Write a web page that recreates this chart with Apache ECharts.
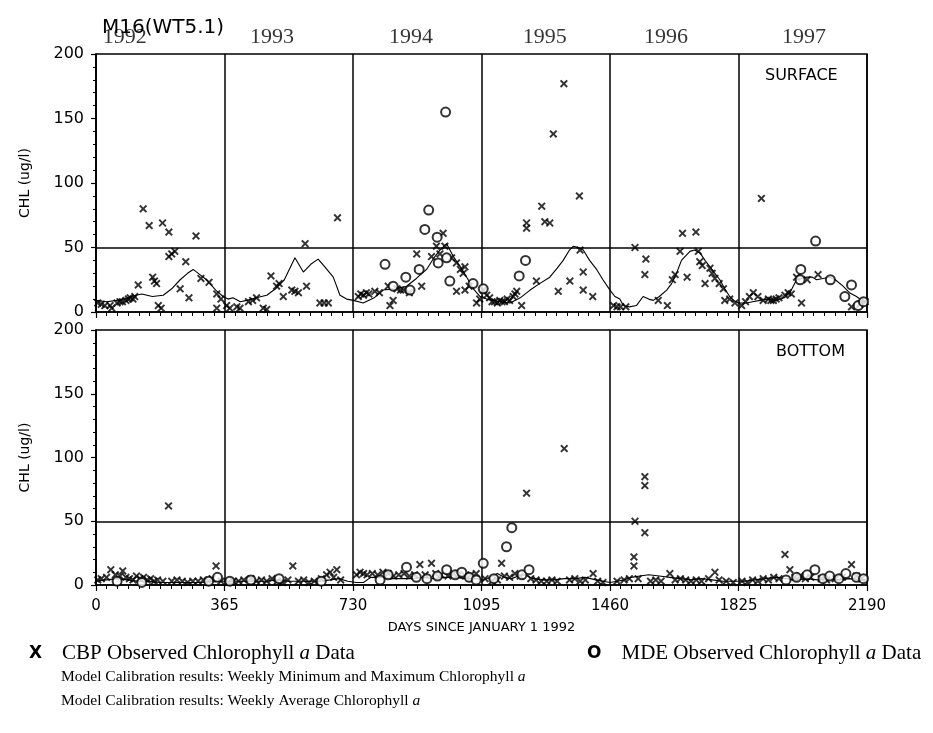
<!DOCTYPE html>
<html>
<head>
<meta charset="utf-8">
<script src="https://cdn.jsdelivr.net/npm/echarts@6/dist/echarts.min.js"></script>
<style>html,body{margin:0;padding:0;background:#fff}#c{width:933px;height:733px}</style>
</head>
<body>
<div id="c"></div>
<script>
// ---- data (day since Jan 1 1992, chlorophyll ug/l) ----
const xTicks = [0, 365, 730, 1095, 1460, 1825, 2190];
const yearLabels = ['1992', '1993', '1994', '1995', '1996', '1997'];
const yearLabelDays = [82, 500, 895, 1275, 1619, 2011];

const surfaceCBP = [
  [5,7],[15,6],[25,5],[40,5],[45,3],[60,7],[68,8],[75,8],[85,9],[92,10],[97,11],[105,10],[110,12],[120,21],[134,80],[151,67],[161,27],[166,24],[172,22],[177,5],[185,3],[189,69],[207,62],[207,43],[215,45],[224,47],[239,18],[255,39],[264,11],[284,59],[298,26],[321,23],[343,14],[343,3],[355,10],[371,5],
  [380,3],[400,4],[409,3],[433,8],[445,9],[456,11],[475,3],[485,2],[497,28],[513,20],[520,22],[532,12],[556,17],[565,16],[575,15],[594,53],[598,20],[636,7],[648,7],[660,7],[686,73],
  [745,12],[752,14],[760,13],[768,15],[775,14],[792,16],[805,15],[830,20],[835,5],[844,9],[855,18],[865,17],[873,17],[890,15],[911,45],[925,20],[953,43],[967,51],[977,45],[986,61],[991,51],[1010,42],[1024,38],[1024,16],[1035,33],[1043,30],[1048,35],[1048,17],[1060,20],[1081,7],[1090,10],
  [1100,17],[1110,13],[1118,11],[1125,8],[1132,8],[1140,7],[1147,9],[1153,8],[1160,8],[1168,10],[1175,9],[1185,12],[1190,14],[1195,16],[1209,5],[1223,69],[1223,65],[1251,24],[1266,82],[1275,70],[1289,69],[1299,138],[1313,16],[1329,177],[1346,24],[1373,90],[1375,48],[1384,31],[1384,17],[1411,12],
  [1470,5],[1480,4],[1490,4],[1505,4],[1531,50],[1559,29],[1562,41],[1597,9],[1623,5],[1637,25],[1645,29],[1659,47],[1666,61],[1679,27],[1704,62],[1711,47],[1715,39],[1722,36],[1730,22],[1744,34],[1750,30],[1758,26],[1770,22],[1782,18],[1786,9],[1800,10],[1815,7],
  [1834,5],[1845,8],[1856,12],[1867,15],[1880,12],[1890,88],[1895,9],[1910,10],[1917,9],[1924,9],[1932,10],[1940,11],[1957,13],[1966,15],[1975,14],[1990,27],[2004,7],[2020,25],[2051,29],[2146,4],[2170,6],[2185,8]
];
const surfaceMDE = [
  [821,37],[844,20],[880,27],[892,17],[918,33],[934,64],[945,79],[969,58],[972,38],[993,155],[996,42],[1005,24],[1071,22],[1100,18],
  [1202,28],[1220,40],
  [2000,25],[2002,33],[2044,55],[2086,25],[2127,12],[2146,21],[2165,5],[2180,8]
];
const surfaceAvg = [
  [0,9],[30,8],[60,9],[90,11],[115,13],[130,14],[160,12],[191,13],[215,18],[239,25],[260,30],[276,33],[295,29],[314,25],[340,17],[361,12],[375,10],[389,11],[410,8],[428,9],[455,11],[485,13],[510,18],[535,25],[565,42],[589,31],[610,37],[631,41],[650,35],[674,27],[693,13],[712,10],[731,9],
  [759,7],[790,11],[816,17],[850,18],[882,20],[910,26],[939,33],[960,42],[977,48],[996,53],[1015,43],[1035,35],[1053,27],[1072,18],[1091,12],
  [1110,10],[1128,9],[1150,8],[1176,7],[1205,11],[1233,17],[1260,22],[1289,27],[1310,34],[1327,40],[1345,48],[1356,51],[1370,50],[1384,48],[1402,40],[1422,33],[1440,25],[1460,17],
  [1474,12],[1488,10],[1498,5],[1515,4],[1535,5],[1554,12],[1570,10],[1583,9],[1600,12],[1621,17],[1635,22],[1649,30],[1663,40],[1687,47],[1700,48],[1715,46],[1730,40],[1744,35],[1758,30],[1772,25],[1786,18],[1800,12],[1812,9],[1824,7],
  [1848,7],[1865,8],[1886,9],[1910,10],[1933,9],[1955,11],[1971,15],[1990,25],[2018,27],[2035,27],[2047,25],[2065,26],[2084,27],[2100,25],[2122,20],[2140,15],[2160,12],[2175,9],[2190,7]
];

const bottomCBP = [
  [5,4],[15,5],[30,6],[42,12],[55,8],[68,7],[76,11],[85,6],[95,5],[105,4],[115,7],[125,5],[135,6],[145,4],[155,5],[165,3],[175,4],[190,3],[206,62],[215,3],[230,4],[245,3],[260,2],[275,3],[290,3],[305,4],[320,3],[330,5],[341,15],[355,3],
  [375,2],[390,3],[405,3],[420,4],[440,5],[455,3],[470,4],[485,3],[500,5],[515,3],[530,2],[545,4],[559,15],[575,3],[590,4],[605,2],[620,3],[640,5],[655,8],[665,10],[675,6],[684,12],[695,4],
  [740,8],[750,10],[760,9],[770,8],[785,9],[800,8],[815,10],[830,9],[845,7],[860,8],[875,9],[890,7],[905,8],[920,16],[935,8],[953,17],[965,9],[980,8],[1000,7],[1015,9],[1030,8],[1050,7],[1065,8],[1080,9],
  [1105,5],[1125,3],[1140,4],[1152,17],[1160,7],[1175,6],[1190,9],[1205,7],[1223,72],[1235,5],[1250,4],[1265,3],[1280,3],[1295,4],[1310,3],[1330,107],[1345,4],[1360,5],[1375,3],[1390,4],[1412,9],[1425,3],[1440,2],
  [1480,3],[1500,4],[1515,5],[1528,15],[1528,22],[1531,50],[1540,5],[1559,85],[1559,78],[1559,41],[1575,3],[1590,4],[1605,3],[1630,9],[1645,4],[1660,5],[1675,4],[1690,3],[1705,4],[1720,3],[1740,5],[1758,10],[1770,4],[1790,3],[1810,2],
  [1835,3],[1850,2],[1865,4],[1880,3],[1895,5],[1910,4],[1925,6],[1940,5],[1957,24],[1971,12],[1985,6],[2000,7],[2015,5],[2030,6],[2060,5],[2075,4],[2100,5],[2120,6],[2146,16],[2160,7],[2175,5]
];
const bottomMDE = [
  [60,3],[130,2],[320,3],[345,6],[380,3],[440,4],[520,5],[640,3],
  [807,4],[830,8],[882,14],[910,6],[940,5],[970,7],[996,12],[1020,8],[1039,10],[1060,6],[1080,4],[1100,17],
  [1130,5],[1166,30],[1181,45],[1210,8],[1230,12],
  [1960,4],[1990,6],[2020,8],[2042,12],[2065,5],[2084,7],[2110,5],[2130,9],[2160,6],[2180,5]
];
const bottomAvg = [
  [0,3],[30,4],[60,5],[90,4],[120,3],[150,3],[180,2],[210,2],[240,2],[270,2],[300,2],[330,3],[365,3],[395,3],[425,3],[455,3],[485,3],[515,4],[545,3],[575,3],[605,3],[635,3],[665,4],[690,5],[715,3],
  [740,2],[760,2],[780,6],[810,6],[840,5],[870,5],[900,5],[930,6],[960,5],[990,6],[1020,6],[1050,5],[1080,5],
  [1100,4],[1120,6],[1140,9],[1160,6],[1180,5],[1200,7],[1220,8],[1240,5],[1270,4],[1300,4],[1330,5],[1360,5],[1390,6],[1420,4],[1440,3],
  [1460,2],[1480,3],[1500,4],[1520,6],[1545,7],[1570,8],[1600,7],[1630,6],[1660,5],[1690,4],[1720,5],[1750,4],[1780,3],[1810,3],
  [1840,3],[1870,4],[1900,5],[1930,6],[1960,5],[1990,4],[2020,5],[2050,4],[2080,5],[2110,4],[2140,5],[2170,4],[2190,4]
];
const refLevel = 50;

// ---- chart ----
const X_PATH = 'path://M0,1.7L1.7,0L5,3.3L8.3,0L10,1.7L6.7,5L10,8.3L8.3,10L5,6.7L1.7,10L0,8.3L3.3,5Z';
const SANS = 'DejaVu Sans';
const SERIF = 'Liberation Serif';

function xAxisFor(gi, showLabels) {
  return {
    type: 'value', gridIndex: gi, min: 0, max: 2190, interval: 365,
    axisLine: { show: true, onZero: false, lineStyle: { color: '#000', width: 1.5 } },
    axisTick: { show: true, inside: false, length: 6, lineStyle: { color: '#000', width: 1.2 } },
    minorTick: { show: true, splitNumber: 12, length: 4, lineStyle: { color: '#000', width: 1 } },
    splitLine: { show: true, lineStyle: { color: '#000', width: 1.5 } },
    axisLabel: showLabels ? { show: true, color: '#000', fontFamily: SANS, fontSize: 15, margin: 14, formatter: v => String(v) } : { show: false },
    name: showLabels ? 'DAYS SINCE JANUARY 1 1992' : '',
    nameLocation: 'middle', nameGap: 36,
    nameTextStyle: { color: '#000', fontFamily: SANS, fontSize: 13 }
  };
}
function yAxisFor(gi) {
  return {
    type: 'value', gridIndex: gi, min: 0, max: 200, interval: 50,
    axisLine: { show: true, lineStyle: { color: '#000', width: 1.5 } },
    axisTick: { show: true, inside: false, length: 5, lineStyle: { color: '#000', width: 1.2 } },
    minorTick: { show: true, splitNumber: 5, length: 3, lineStyle: { color: '#000', width: 1 } },
    splitLine: { show: false },
    axisLabel: { color: '#000', fontFamily: SANS, fontSize: 16, margin: 12, formatter: v => String(v) },
    name: 'CHL (ug/l)', nameLocation: 'middle', nameGap: 64,
    nameTextStyle: { color: '#000', fontFamily: SANS, fontSize: 14 }
  };
}
function cbp(gi, data) {
  return { type: 'scatter', xAxisIndex: gi, yAxisIndex: gi, data: data, symbol: X_PATH, symbolSize: 8,
    itemStyle: { color: '#000' }, silent: true, z: 4 };
}
function mde(gi, data) {
  return { type: 'scatter', xAxisIndex: gi, yAxisIndex: gi, data: data, symbol: 'emptyCircle', symbolSize: 9,
    itemStyle: { color: '#000', borderColor: '#000', borderWidth: 1.6 }, silent: true, z: 4 };
}
function avg(gi, data) {
  return { type: 'line', xAxisIndex: gi, yAxisIndex: gi, data: data, showSymbol: false, symbol: 'none',
    lineStyle: { color: '#000', width: 1.1 }, silent: true, z: 3, animation: false,
    markLine: { silent: true, symbol: 'none', label: { show: false },
      lineStyle: { color: '#000', width: 1.5, type: 'solid' }, data: [{ yAxis: refLevel }] } };
}
function rich(size) {
  return {
    m: { fontFamily: SANS, fontWeight: 'bold', fontSize: 17, color: '#000' },
    t: { fontFamily: SERIF, fontWeight: 'normal', fontSize: size, color: '#000' },
    i: { fontFamily: SERIF, fontWeight: 'normal', fontStyle: 'italic', fontSize: size, color: '#000' }
  };
}

const chart = echarts.init(document.getElementById('c'), null, { renderer: 'canvas' });
chart.setOption({
  animation: false,
  backgroundColor: '#fff',
  grid: [
    { left: 96, top: 54, width: 771, height: 258, show: true, borderColor: '#000', borderWidth: 1.5, backgroundColor: 'transparent' },
    { left: 96, top: 330, width: 771, height: 255, show: true, borderColor: '#000', borderWidth: 1.5, backgroundColor: 'transparent' }
  ],
  xAxis: [xAxisFor(0, false), xAxisFor(1, true)],
  yAxis: [yAxisFor(0), yAxisFor(1)],
  title: [
    { text: 'M16(WT5.1)', left: 97, top: 13, textStyle: { fontFamily: SANS, fontSize: 20, fontWeight: 'normal', color: '#000' } },
    { text: 'SURFACE', left: 760, top: 63, textStyle: { fontFamily: SANS, fontSize: 16, fontWeight: 'normal', color: '#000' } },
    { text: 'BOTTOM', left: 771, top: 339, textStyle: { fontFamily: SANS, fontSize: 16, fontWeight: 'normal', color: '#000' } },
    { text: '{m|X}    {t|CBP Observed Chlorophyll }{i|a}{t| Data}', left: 24, top: 638, textStyle: { fontWeight: 'normal', rich: rich(21) } },
    { text: '{m|O}    {t|MDE Observed Chlorophyll }{i|a}{t| Data}', left: 582, top: 638, textStyle: { fontWeight: 'normal', rich: rich(21) } },
    { text: '{t|Model Calibration results: Weekly Minimum and Maximum Chlorophyll }{i|a}', left: 56, top: 664, textStyle: { fontWeight: 'normal', rich: rich(15.5) } },
    { text: '{t|Model Calibration results: Weekly Average Chlorophyll }{i|a}', left: 56, top: 688, textStyle: { fontWeight: 'normal', rich: rich(15.5) } }
  ],
  series: [
    avg(0, surfaceAvg), cbp(0, surfaceCBP), mde(0, surfaceMDE),
    avg(1, bottomAvg), cbp(1, bottomCBP), mde(1, bottomMDE),
    { type: 'scatter', xAxisIndex: 0, yAxisIndex: 0, symbolSize: 0, silent: true, clip: false,
      data: yearLabelDays.map((d, i) => ({ value: [d, 200], name: yearLabels[i] })),
      label: { show: true, position: 'top', distance: 6, formatter: p => p.name, fontFamily: SERIF, fontSize: 22, color: '#000' } }
  ]
});
</script>
</body>
</html>
